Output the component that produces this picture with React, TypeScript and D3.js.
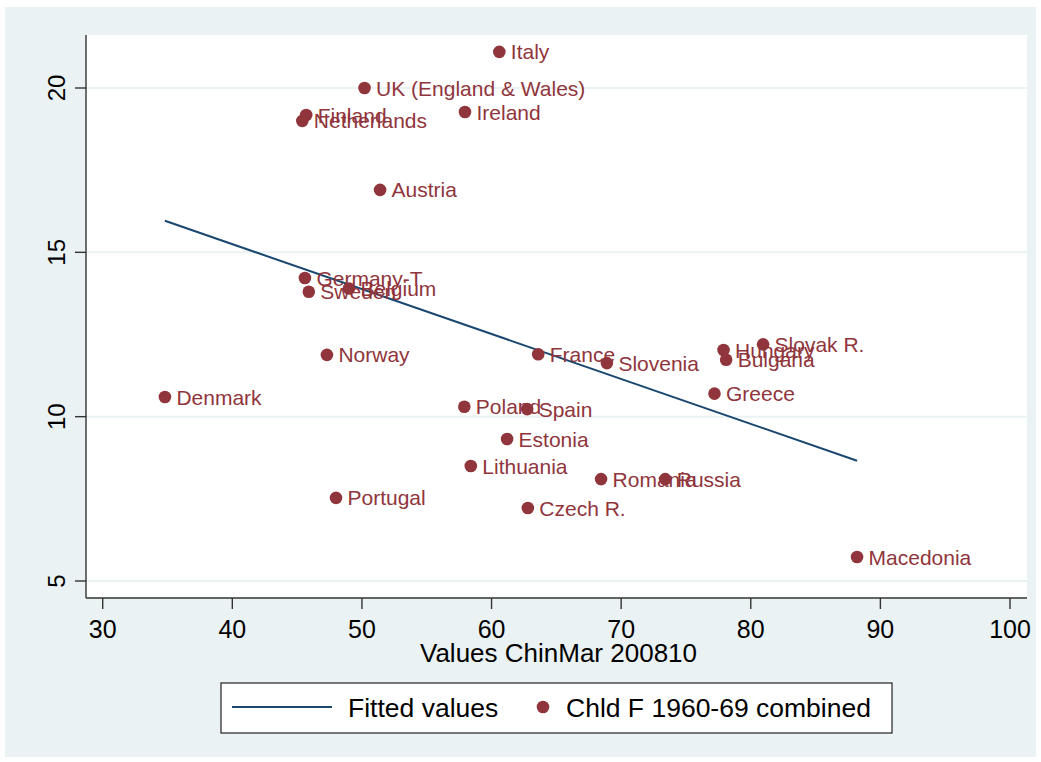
import React from "react";
import * as d3 from "d3";

const countries = [
  "Italy", "UK (England & Wales)", "Finland", "Netherlands", "Ireland", "Austria",
  "Germany-T", "Sweden", "Belgium", "Norway", "Denmark", "Poland", "Spain", "France",
  "Slovenia", "Estonia", "Lithuania", "Portugal", "Czech R.", "Romania", "Russia",
  "Hungary", "Bulgaria", "Slovak R.", "Greece", "Macedonia",
];
const chinMar = [
  60.6, 50.2, 45.7, 45.4, 57.95, 51.4,
  45.6, 45.9, 49.0, 47.3, 34.8, 57.9, 62.75, 63.6,
  68.9, 61.2, 58.4, 48.0, 62.8, 68.45, 73.4,
  77.9, 78.1, 80.95, 77.2, 88.2,
];
const childless = [
  21.1, 20.0, 19.18, 19.0, 19.27, 16.9,
  14.22, 13.8, 13.9, 11.88, 10.6, 10.3, 10.23, 11.9,
  11.63, 9.32, 8.5, 7.53, 7.22, 8.1, 8.1,
  12.03, 11.73, 12.2, 10.7, 5.73,
];
const fittedX = [34.8, 88.2];
const fittedY = [15.96, 8.66];
const xTicks = [30, 40, 50, 60, 70, 80, 90, 100];
const yTicks = [5, 10, 15, 20];
const xTitle = "Values ChinMar 200810";
const legendLine = "Fitted values";
const legendDots = "Chld F 1960-69 combined";

const BG = "#EAF2F3";
const NAVY = "#1A476F";
const MAROON = "#90353B";
const FONT = "'Liberation Sans', Arial, Helvetica, sans-serif";

export default function App() {
  const W = 1041, H = 762;
  const plotL = 86, plotR = 1027, plotT = 35, plotB = 598;
  const x = d3.scaleLinear().domain([30, 100]).range([102.7, 1010]);
  const y = d3.scaleLinear().domain([5, 20]).range([581, 88]);
  const line = d3.line<[number, number]>().x(d => x(d[0])).y(d => y(d[1]));
  const fitPts: [number, number][] = fittedX.map((v, i) => [v, fittedY[i]]);

  return (
    <svg width={W} height={H} style={{ position: "absolute", left: 0, top: 0, fontFamily: FONT }}>
      <rect x={0} y={0} width={W} height={H} fill="#fff" />
      <rect x={5} y={7} width={1031} height={750} fill={BG} />
      <rect x={plotL} y={plotT} width={plotR - plotL} height={plotB - plotT} fill="#fff" />
      {yTicks.map(t => (
        <line key={"g" + t} x1={plotL} x2={plotR} y1={y(t)} y2={y(t)} stroke={BG} strokeWidth={2} />
      ))}
      <path d={line(fitPts) || ""} fill="none" stroke={NAVY} strokeWidth={2} />
      {countries.map((c, i) => (
        <g key={c}>
          <circle cx={x(chinMar[i])} cy={y(childless[i])} r={6.3} fill={MAROON} />
          <text x={x(chinMar[i]) + 11.5} y={y(childless[i])} dy="0.36em" fontSize={21} fill={MAROON}>{c}</text>
        </g>
      ))}
      {/* axes */}
      <line x1={plotL} x2={plotL} y1={plotT} y2={plotB} stroke="#333" strokeWidth={1.4} />
      <line x1={plotL} x2={plotR} y1={plotB} y2={plotB} stroke="#333" strokeWidth={1.4} />
      {yTicks.map(t => (
        <g key={"yt" + t}>
          <line x1={plotL - 11} x2={plotL} y1={y(t)} y2={y(t)} stroke="#333" strokeWidth={1.4} />
          <text transform={`translate(65,${y(t)}) rotate(-90)`} textAnchor="middle" fontSize={24} fill="#000">{t}</text>
        </g>
      ))}
      {xTicks.map(t => (
        <g key={"xt" + t}>
          <line x1={x(t)} x2={x(t)} y1={plotB} y2={plotB + 11} stroke="#333" strokeWidth={1.4} />
          <text x={x(t)} y={638} textAnchor="middle" fontSize={25} fill="#000">{t}</text>
        </g>
      ))}
      <text x={(plotL + plotR) / 2 + 2} y={662} textAnchor="middle" fontSize={26} fill="#000">{xTitle}</text>
      {/* legend */}
      <rect x={221} y={683} width={671} height={50} fill="#fff" stroke="#222" strokeWidth={1.2} />
      <line x1={232} x2={332} y1={707} y2={707} stroke={NAVY} strokeWidth={2} />
      <text x={348} y={717} fontSize={26.5} fill="#000">{legendLine}</text>
      <circle cx={543} cy={707} r={6.3} fill={MAROON} />
      <text x={566} y={717} fontSize={26.5} fill="#000">{legendDots}</text>
    </svg>
  );
}
